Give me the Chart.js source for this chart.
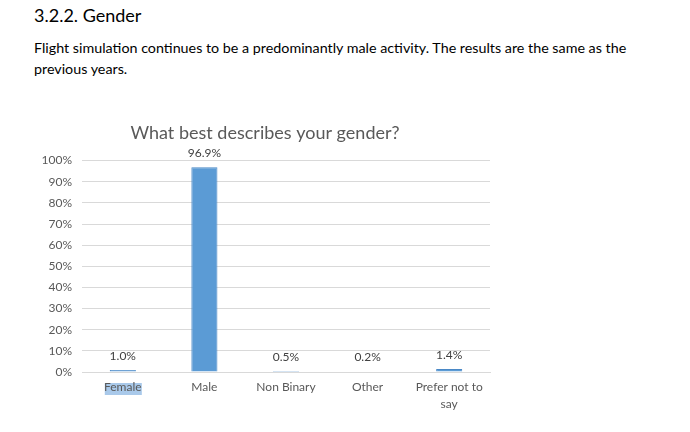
<!DOCTYPE html>
<html><head><meta charset="utf-8">
<script src="https://cdn.jsdelivr.net/npm/chart.js@4/dist/chart.umd.min.js"></script>
<style>
html,body{margin:0;padding:0;background:#fff;width:690px;height:432px;overflow:hidden;font-family:Lato,"Open Sans",sans-serif;color:#000}
h1{position:absolute;left:34px;top:4px;margin:0;font-weight:400;font-size:18px;}
p{position:absolute;left:34px;top:37px;margin:0;font-size:14.3px;line-height:21px;width:660px;white-space:nowrap}
#wrap{position:absolute;left:40px;top:110px;width:460px;height:322px}
</style></head>
<body>
<h1>3.2.2. Gender</h1>
<p>Flight simulation continues to be a predominantly male activity. The results are the same as the<br>previous years.</p>
<div id="wrap"><canvas id="c"></canvas></div>
<script>
const categories = ["Female", "Male", "Non Binary", "Other", ["Prefer not to", "say"]];
const values = [1.0, 96.9, 0.5, 0.2, 1.4];
const valueLabels = ["1.0%", "96.9%", "0.5%", "0.2%", "1.4%"];
const chartTitle = "What best describes your gender?";

const FONT = 'Lato, "Open Sans", sans-serif';
const labelPlugin = {
  id: 'vals',
  afterDatasetsDraw(chart) {
    const ctx = chart.ctx;
    const meta = chart.getDatasetMeta(0);
    ctx.save();
    ctx.font = '12px ' + FONT;
    ctx.fillStyle = '#404040';
    ctx.textAlign = 'center';
    ctx.textBaseline = 'middle';
    meta.data.forEach((bar, i) => {
      ctx.fillText(valueLabels[i], bar.x, bar.y - 14);
    });
    ctx.restore();
  }
};
const highlightPlugin = {
  id: 'hl',
  beforeDraw(chart) {
    const x = chart.scales.x;
    const cx = x.getPixelForValue(0);
    const ctx = chart.ctx;
    ctx.save();
    ctx.fillStyle = '#a9c9ea';
    ctx.fillRect(cx - 18, x.top + 11, 37, 12);
    ctx.restore();
  }
};

new Chart(document.getElementById('c'), {
  type: 'bar',
  data: {
    labels: categories,
    datasets: [{
      data: values,
      backgroundColor: '#5b9bd5',
      borderColor: '#4a88c6',
      borderWidth: 1,
      barPercentage: 0.4,
      categoryPercentage: 0.8
    }]
  },
  options: {
    responsive: true,
    maintainAspectRatio: false,
    animation: false,
    layout: { padding: { right: 10, top: 0, bottom: 0, left: 0 } },
    plugins: {
      legend: { display: false },
      tooltip: { enabled: false },
      title: {
        display: true,
        text: chartTitle,
        color: '#595959',
        font: { family: FONT, size: 18, weight: 'normal' },
        padding: { top: 12, bottom: 17 }
      }
    },
    scales: {
      y: {
        min: 0, max: 100,
        ticks: { stepSize: 10, callback: v => v + '%', color: '#595959', padding: 10,
                 font: { family: FONT, size: 12 } },
        grid: { color: '#d9d9d9', drawTicks: false },
        border: { display: false },
        afterFit(s) { s.width = 42; }
      },
      x: {
        ticks: { color: '#595959', padding: -1, maxRotation: 0,
                 font: { family: FONT, size: 12, lineHeight: 1.4 } },
        grid: { display: false },
        border: { color: '#d9d9d9' },
        afterFit(s) { s.height = 60; }
      }
    }
  },
  plugins: [highlightPlugin, labelPlugin]
});
</script>
</body></html>
